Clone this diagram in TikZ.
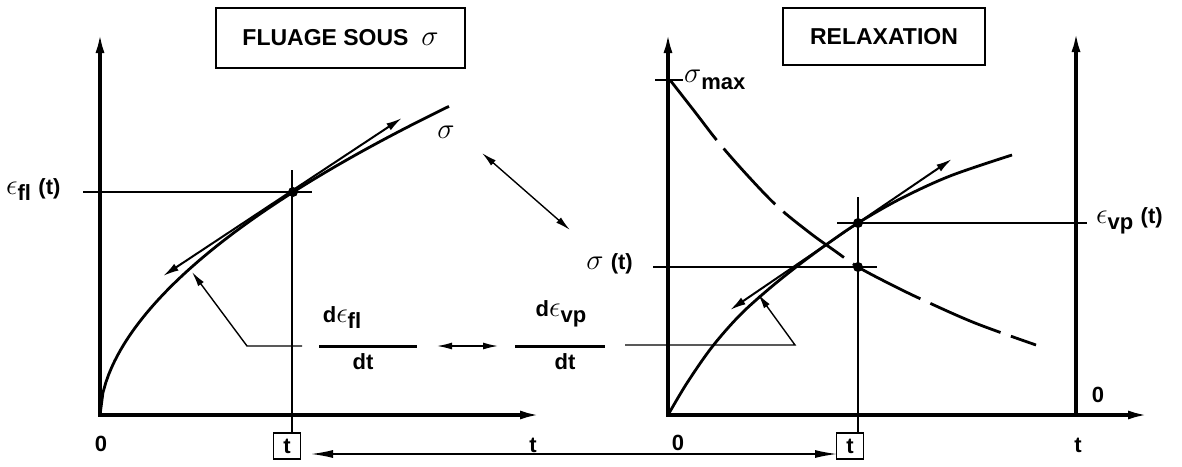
\RequirePackage{fix-cm}
\documentclass[tikz,border=0pt]{standalone}
\usepackage{amsmath}
\usepackage{fontspec}
\setmainfont{Liberation Sans}
\usetikzlibrary{arrows.meta}
\newcommand\gsig{{\fontsize{29}{30}\selectfont$\sigma$}}
\newcommand\geps{{\fontsize{29}{30}\selectfont$\epsilon$}}
\begin{document}
\begin{tikzpicture}[x=1pt,y=-1pt,
  ax/.style={line width=3.4pt,{Latex[length=20pt,width=9pt]}-{Latex[length=20pt,width=9pt]}},
  axone/.style={line width=3.4pt,-{Latex[length=20pt,width=9pt]}},
  crv/.style={line width=2.8pt},
  fine/.style={line width=1.4pt},
  tng/.style={line width=2pt,{Latex[length=16pt,width=8pt]}-{Latex[length=16pt,width=8pt]}},
  ldr/.style={line width=1.4pt,-{Latex[length=15pt,width=7pt]}},
  dbl/.style={line width=1.4pt,{Latex[length=15pt,width=7pt]}-{Latex[length=15pt,width=7pt]}},
  fbar/.style={line width=3pt},
  lbl/.style={font=\fontsize{22}{24}\selectfont\bfseries, inner sep=0pt},
  tbx/.style={draw, line width=1.6pt, minimum width=27pt, minimum height=26pt, inner sep=0pt, font=\fontsize{22}{24}\selectfont\bfseries},
  ttl/.style={draw, line width=2.4pt, font=\fontsize{23}{26}\selectfont\bfseries, inner sep=0pt},
  pdot/.style={circle, fill, inner sep=0pt, minimum size=10pt}
]
\useasboundingbox (0,0) rectangle (1182,466);

% ---------- left panel ----------
\node[ttl, minimum width=249pt, minimum height=60pt] (box1) at (340.5,38) {FLUAGE SOUS~~\gsig};
\coordinate (O1) at (100,415);
\coordinate (Y1) at (100,33);
\coordinate (X1) at (540,415);
\draw[ax] (Y1) -- (O1) -- (X1);

\node[tbx] (tb1) at (287,446) {t};
\node[lbl] (zero1) at (101,444) {0};
\node[lbl] (tlab1) at (533,445) {t};

\coordinate (v1) at (292,170);
\draw[fine] (v1) -- (v1 |- tb1.north);
\coordinate (e1a) at (83,192);
\coordinate (e1b) at (312,192);
\draw[fine] (e1a) -- (e1b);
\node[lbl, anchor=west] (efl) at (6,190) {\geps\raisebox{-6pt}{fl}\,\,(t)};

\draw[crv] plot[domain=0:349, samples=120, variable=\u] ({100+\u}, {415-12.33*(\u)^0.55});
\coordinate (P1) at (293,192);
\node[pdot] (d1) at (P1) {};
\coordinate (T1a) at (163,276);
\coordinate (T1b) at (402,118);
\draw[tng] (T1a) -- (T1b);
\node[lbl] (sig1) at (446,132) {\gsig};

% leader and fractions
\coordinate (L1a) at (302,346);
\coordinate (L1b) at (247,346);
\coordinate (L1c) at (192,272);
\draw[ldr] (L1a) -- (L1b) -- (L1c);
\coordinate (B1a) at (319,346);
\coordinate (B1b) at (417,346);
\draw[fbar] (B1a) -- (B1b);
\node[lbl] (num1) at (342,318) {d\geps\raisebox{-6pt}{fl}};
\node[lbl] (den1) at (363,362) {dt};
\coordinate (M1) at (437,346);
\coordinate (M2) at (498,346);
\draw[dbl] (M1) -- (M2);
\coordinate (B2a) at (515,346);
\coordinate (B2b) at (605,346);
\draw[fbar] (B2a) -- (B2b);
\node[lbl] (num2) at (561,314) {d\geps\raisebox{-6pt}{vp}};
\node[lbl] (den2) at (565,362) {dt};
\coordinate (L2a) at (625,345);
\coordinate (L2b) at (795,345);
\coordinate (L2c) at (758,294);
\draw[ldr] (L2a) -- (L2b) -- (L2c);

% diagonal double arrow
\coordinate (D1) at (482,153);
\coordinate (D2) at (570,230);
\draw[dbl] (D1) -- (D2);

% ---------- right panel ----------
\node[ttl, minimum width=202pt, minimum height=57pt] (box2) at (884,36.5) {RELAXATION};
\coordinate (O2) at (668,415);
\coordinate (Y2) at (668,33);
\coordinate (X2) at (1148,415);
\draw[ax] (Y2) -- (O2) -- (X2);
\coordinate (R0) at (1076,415);
\coordinate (Y3) at (1076,32);
\draw[axone] (R0) -- (Y3);

\node[tbx] (tb2) at (850,446) {t};
\node[lbl] (zero2) at (678,443) {0};
\node[lbl] (tlab2) at (1078,445) {t};
\node[lbl] (zero3) at (1098,395) {0};

\coordinate (sm1) at (655,80);
\coordinate (sm2) at (683,80);
\draw[fine] (sm1) -- (sm2);
\node[lbl, anchor=west] (smax) at (684,80) {\gsig\raisebox{-7pt}{max}};

\coordinate (v2) at (858,197);
\draw[fine] (v2) -- (v2 |- tb2.north);
\coordinate (e2a) at (837,223);
\coordinate (e2b) at (1087,223);
\draw[fine] (e2a) -- (e2b);
\node[lbl, anchor=west] (evp) at (1096,221) {\geps\raisebox{-6pt}{vp}\,\,(t)};
\coordinate (s2a) at (653,267);
\coordinate (s2b) at (877,267);
\draw[fine] (s2a) -- (s2b);
\node[lbl, anchor=east] (st) at (633,264) {\gsig\,\,(t)};

\draw[crv, dash pattern=on 76pt off 11pt] plot[smooth, tension=0.55] coordinates {(670,80) (695,112) (719,143) (748,176) (778,207) (810,233) (835,251) (858,267) (890,284) (923,300) (975,323) (1036,345)};
\draw[crv] plot[smooth, tension=0.55] coordinates {(668,415) (687,383) (712,347) (740,315) (770,288) (800,264) (830,242) (858,223) (900,199) (950,176) (1012,155)};
\coordinate (P2) at (858,223);
\coordinate (P3) at (858,267);
\node[pdot] (d2) at (P2) {};
\node[pdot] (d3) at (P3) {};
\coordinate (T2a) at (730,310);
\coordinate (T2b) at (952,159);
\draw[tng] (T2a) -- (T2b);

% bottom double arrow
\coordinate (BA) at (311,454);
\coordinate (BB) at (837,454);
\draw[line width=1.4pt,{Latex[length=22pt,width=8pt]}-{Latex[length=22pt,width=8pt]}] (BA) -- (BB);
\end{tikzpicture}
\end{document}
